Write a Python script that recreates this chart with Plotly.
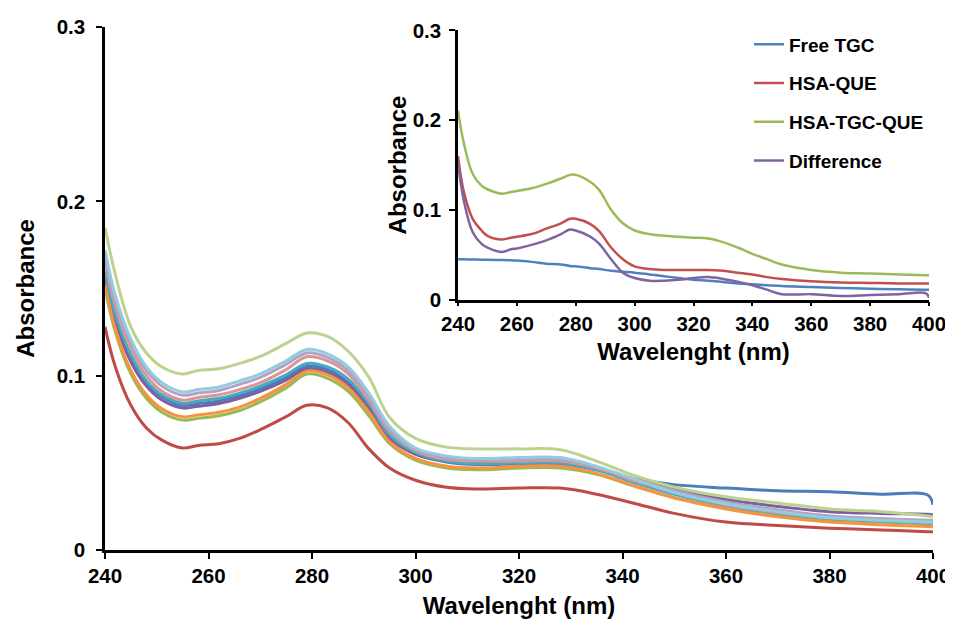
import plotly.graph_objects as go

# ---------------- Main chart data ----------------
wl = [240, 242, 245, 248, 251, 255, 258, 262, 266, 270, 275, 279, 283, 287, 291,
      295, 300, 306, 312, 320, 328, 335, 342, 350, 360, 370, 380, 390, 399, 400]

s_blue = [0.158, 0.133, 0.110, 0.095, 0.088, 0.083, 0.084, 0.0855, 0.0885, 0.0925, 0.0990, 0.1054, 0.1035, 0.096, 0.082,
          0.065, 0.055, 0.0505, 0.049, 0.0495, 0.0495, 0.046, 0.041, 0.0375, 0.0355, 0.034, 0.0334, 0.032, 0.0315, 0.026]
s_red = [0.128, 0.105, 0.083, 0.070, 0.063, 0.0585, 0.060, 0.061, 0.064, 0.069, 0.0765, 0.083, 0.0815, 0.073, 0.058,
         0.047, 0.040, 0.036, 0.035, 0.0355, 0.0355, 0.032, 0.027, 0.021, 0.016, 0.014, 0.0125, 0.0115, 0.0105, 0.0105]
s_green = [0.150, 0.125, 0.101, 0.087, 0.079, 0.0745, 0.0755, 0.077, 0.080, 0.085, 0.093, 0.1009, 0.0985, 0.091, 0.077,
           0.061, 0.0515, 0.047, 0.046, 0.047, 0.047, 0.0435, 0.037, 0.030, 0.024, 0.0195, 0.017, 0.016, 0.015, 0.015]
s_purple = [0.155, 0.131, 0.108, 0.094, 0.086, 0.0814, 0.0825, 0.084, 0.087, 0.091, 0.0975, 0.104, 0.102, 0.095, 0.081,
            0.064, 0.055, 0.051, 0.050, 0.0505, 0.0505, 0.047, 0.041, 0.035, 0.029, 0.025, 0.022, 0.021, 0.0205, 0.020]
s_teal = [0.160, 0.135, 0.112, 0.097, 0.089, 0.0842, 0.0855, 0.087, 0.090, 0.094, 0.1005, 0.107, 0.105, 0.098, 0.084,
          0.066, 0.056, 0.051, 0.0495, 0.050, 0.050, 0.046, 0.039, 0.032, 0.0255, 0.021, 0.018, 0.0165, 0.0155, 0.015]
s_orange = [0.152, 0.127, 0.103, 0.089, 0.081, 0.0764, 0.0775, 0.079, 0.082, 0.087, 0.095, 0.1026, 0.1005, 0.093, 0.079,
            0.062, 0.0525, 0.048, 0.047, 0.048, 0.048, 0.044, 0.037, 0.030, 0.0235, 0.019, 0.016, 0.0145, 0.0135, 0.0134]
s_pink = [0.165, 0.140, 0.116, 0.100, 0.091, 0.086, 0.0875, 0.089, 0.092, 0.096, 0.1035, 0.1108, 0.1085, 0.101, 0.086,
          0.068, 0.057, 0.052, 0.051, 0.051, 0.051, 0.047, 0.040, 0.033, 0.026, 0.0215, 0.0185, 0.017, 0.016, 0.016]
s_lgreen = [0.185, 0.158, 0.128, 0.113, 0.105, 0.101, 0.103, 0.104, 0.107, 0.111, 0.1185, 0.1245, 0.1225, 0.114, 0.099,
            0.076, 0.064, 0.059, 0.058, 0.058, 0.0575, 0.051, 0.043, 0.036, 0.0305, 0.027, 0.0235, 0.022, 0.0195, 0.019]
s_lpurple = [0.168, 0.143, 0.119, 0.103, 0.094, 0.0888, 0.090, 0.0915, 0.095, 0.099, 0.1065, 0.113, 0.1105, 0.103, 0.088,
             0.069, 0.0575, 0.053, 0.052, 0.052, 0.052, 0.0475, 0.041, 0.034, 0.0275, 0.023, 0.0195, 0.018, 0.017, 0.017]
s_laqua = [0.172, 0.146, 0.121, 0.105, 0.096, 0.0907, 0.092, 0.0935, 0.097, 0.101, 0.1085, 0.115, 0.1125, 0.105, 0.090,
           0.071, 0.0585, 0.054, 0.0525, 0.053, 0.053, 0.048, 0.041, 0.033, 0.0265, 0.022, 0.0185, 0.017, 0.016, 0.0157]

main_series = [
    (s_blue, "#4A7EBB"), (s_red, "#BE4B48"), (s_green, "#98B954"), (s_purple, "#7D60A0"),
    (s_teal, "#46AAC5"), (s_orange, "#F69240"), (s_pink, "#D99694"), (s_lgreen, "#BCD38F"),
    (s_lpurple, "#B3A2C7"), (s_laqua, "#93CDDD"),
]

# ---------------- Inset data ----------------
wl_in = [240, 242, 245, 248, 250, 255, 258, 260, 265, 270, 275, 278, 280, 285, 288, 292, 296,
         300, 305, 310, 315, 320, 325, 330, 335, 340, 345, 350, 360, 370, 380, 390, 399, 400]

free_tgc = [0.045, 0.0448, 0.0446, 0.0444, 0.0443, 0.044, 0.0437, 0.0435, 0.042, 0.040, 0.039, 0.0375, 0.037, 0.035,
            0.034, 0.032, 0.031, 0.030, 0.028, 0.026, 0.024, 0.022, 0.021, 0.0195, 0.018, 0.017, 0.016, 0.015,
            0.014, 0.013, 0.012, 0.0115, 0.011, 0.011]
hsa_que = [0.160, 0.120, 0.090, 0.077, 0.071, 0.067, 0.069, 0.070, 0.073, 0.079, 0.085, 0.090, 0.090, 0.084, 0.076,
           0.058, 0.045, 0.037, 0.034, 0.033, 0.033, 0.033, 0.033, 0.032, 0.030, 0.028, 0.025, 0.023, 0.0205,
           0.019, 0.0185, 0.018, 0.018, 0.018]
hsa_tgc_que = [0.211, 0.174, 0.140, 0.127, 0.123, 0.118, 0.120, 0.121, 0.124, 0.129, 0.135, 0.139, 0.139, 0.131, 0.122,
               0.100, 0.085, 0.077, 0.073, 0.071, 0.070, 0.069, 0.068, 0.064, 0.058, 0.051, 0.045, 0.039, 0.033,
               0.030, 0.029, 0.028, 0.027, 0.027]
difference = [0.152, 0.110, 0.075, 0.062, 0.058, 0.053, 0.056, 0.057, 0.061, 0.066, 0.073, 0.078, 0.077, 0.070, 0.062,
              0.045, 0.030, 0.024, 0.021, 0.021, 0.022, 0.024, 0.025, 0.023, 0.020, 0.016, 0.011, 0.006, 0.006,
              0.004, 0.005, 0.006, 0.007, 0.002]

inset_series = [
    ("Free TGC", free_tgc, "#4F81BD"),
    ("HSA-QUE", hsa_que, "#C0504D"),
    ("HSA-TGC-QUE", hsa_tgc_que, "#9BBB59"),
    ("Difference", difference, "#8064A2"),
]

tick_x = [240, 260, 280, 300, 320, 340, 360, 380, 400]
tick_y = [0, 0.1, 0.2, 0.3]
tick_y_text = ["0", "0.1", "0.2", "0.3"]

FONT = "Arial, Liberation Sans, sans-serif"
OFF = 8  # the page body adds an 8px margin around the figure
W, H = 953 - OFF, 619 - OFF
ML, MR, MT, MB = 105 - OFF, 20, 26.5 - OFF, 69
PW, PH = W - ML - MR, H - MT - MB


def px_x(p):  # screen pixel -> paper fraction
    return (p - OFF - ML) / PW


def px_y(p):
    return (H - MB - (p - OFF)) / PH


fig = go.Figure()
for ys, col in main_series:
    fig.add_trace(go.Scatter(x=wl, y=ys, mode="lines", showlegend=False, hoverinfo="skip",
                             line=dict(color=col, width=3, shape="spline", smoothing=1.0),
                             xaxis="x", yaxis="y"))
for i, (name, ys, col) in enumerate(inset_series):
    fig.add_trace(go.Scatter(x=wl_in, y=ys, mode="lines", name=name, legendgroup=f"g{i}",
                             line=dict(color=col, width=2.5, shape="spline", smoothing=1.0),
                             xaxis="x2", yaxis="y2"))

axis_common = dict(showgrid=False, zeroline=False, showline=True, linecolor="black", linewidth=2.5,
                   ticks="outside", ticklen=6, tickwidth=2, tickcolor="black", automargin=False,
                   ticklabeloverflow="allow",
                   tickfont=dict(family=FONT, size=20.5, color="black", weight="bold"))
title_font = dict(family=FONT, size=24, color="black", weight="bold")

fig.update_layout(
    width=W, height=H, autosize=False,
    margin=dict(l=ML, r=MR, t=MT, b=MB, pad=0, autoexpand=False),
    paper_bgcolor="white", plot_bgcolor="rgba(0,0,0,0)",
    font=dict(family=FONT, color="black"),
    xaxis=dict(axis_common, domain=[0, 1], range=[240, 400], tickvals=tick_x,
               anchor="y", ticklabelstandoff=0,
               title=dict(text="Wavelenght (nm)", standoff=13, font=title_font)),
    yaxis=dict(axis_common, domain=[0, 1], range=[0, 0.3],
               tickvals=tick_y, ticktext=tick_y_text, anchor="x", ticklabelstandoff=7,
               title=dict(text="Absorbance", standoff=16, font=title_font)),
    xaxis2=dict(axis_common, domain=[px_x(458), px_x(929)], range=[240, 400], tickvals=tick_x,
                anchor="y2", ticklen=4,
                title=dict(text="Wavelenght (nm)", standoff=10, font=title_font)),
    yaxis2=dict(axis_common, domain=[px_y(299.3), px_y(30)], range=[0, 0.3],
                tickvals=tick_y, ticktext=tick_y_text, anchor="x2", ticklabelstandoff=4,
                title=dict(text="Absorbance", standoff=0, font=title_font)),
    legend=dict(x=px_x(749), xanchor="left", y=px_y(25), yanchor="top",
                font=dict(family=FONT, size=19, color="black", weight="bold"),
                bgcolor="rgba(0,0,0,0)", tracegroupgap=11, traceorder="grouped"),
)

fig.write_html("out.html")
